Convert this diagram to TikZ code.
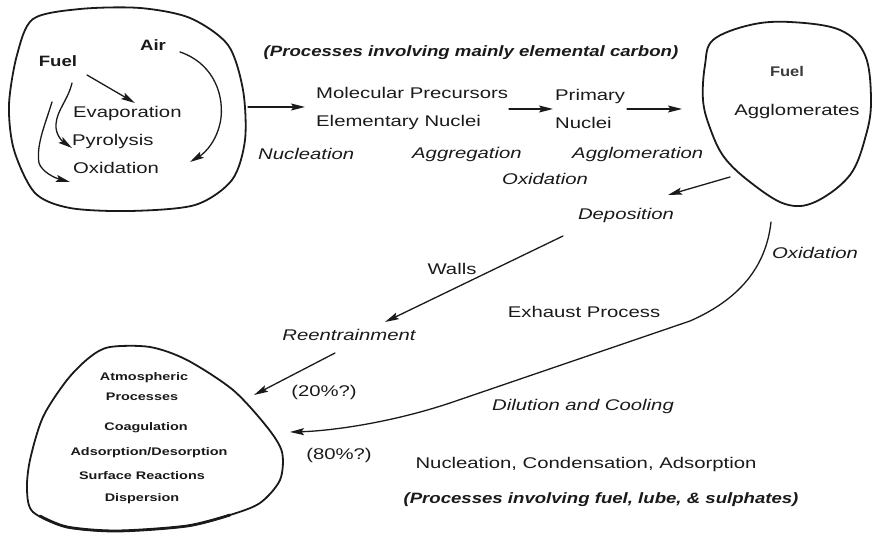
\documentclass[tikz,border=0pt]{standalone}
\usepackage{fontspec}
\usepackage{graphicx}
\setmainfont{Liberation Sans}
\usetikzlibrary{arrows.meta}
\definecolor{ink}{HTML}{1A1A1A}
\definecolor{greyink}{HTML}{3A3A3A}
\newcommand\sx[1]{\scalebox{1.31}[1]{#1}}
\newcommand\sxb[1]{\scalebox{1.24}[1]{#1}}
\tikzset{
  txt/.style={inner sep=0pt, text=ink, font=\fontsize{15.5}{18}\selectfont},
  itx/.style={inner sep=0pt, text=ink, font=\fontsize{15.5}{18}\selectfont\itshape},
  bix/.style={inner sep=0pt, text=ink, font=\fontsize{15}{18}\selectfont\bfseries\itshape},
  btx/.style={inner sep=0pt, text=ink, font=\fontsize{15}{18}\selectfont\bfseries},
  sml/.style={inner sep=0pt, text=ink, font=\fontsize{11}{13}\selectfont\bfseries, anchor=base},
  blob/.style={line width=1.8pt, draw=ink, line join=round},
  arr/.style={line width=1.3pt, draw=ink, line cap=round,
    -{Stealth[length=14pt,width=7pt,inset=2.5pt]}},
}
\begin{document}
\begin{tikzpicture}[x=1pt,y=-1pt]
\useasboundingbox (0,0) rectangle (873,534);
% ---------- blobs ----------
\draw[blob] plot[smooth cycle, tension=0.5] coordinates {
 (33,19) (80,9) (140,8) (190,18) (228,45) (243,90) (245,140) (232,180)
 (195,205) (130,211) (70,208) (35,193) (14,150) (9,105) (17,55)};
\draw[blob] plot[smooth cycle, tension=0.6] coordinates {
 (713,40) (750,25) (790,22) (840,30) (865,55) (871,100) (866,135) (850,175)
 (815,202) (785,204) (750,182) (724,157) (710,128) (703,100) (705,65)};
\draw[blob] plot[smooth cycle, tension=0.5] coordinates {
 (110,347) (150,347) (187,360) (233,390) (267,427) (282,452) (280,480)
 (260,503) (230,515) (187,526) (117,531) (67,527) (33,512) (27,490)
 (30,460) (43,417) (67,380) (90,357)};
\draw[line width=2.8pt, draw=ink, line cap=round] plot[smooth, tension=0.5] coordinates {
 (40,516) (67,527) (117,531) (187,526) (230,515)};
% ---------- texts: top-left blob ----------
\node[btx, anchor=base] (fuel1) at (58,67) {\sxb{Fuel}};
\node[btx, anchor=base] (air) at (153,51) {\sxb{Air}};
\node[txt, anchor=base west] (evap) at (73,118) {\sx{Evaporation}};
\node[txt, anchor=base west] (pyro) at (72,146) {\sx{Pyrolysis}};
\node[txt, anchor=base west] (oxi1) at (73,174) {\sx{Oxidation}};
% ---------- top row ----------
\node[bix, anchor=base] (head1) at (471,57) {\sxb{(Processes involving mainly elemental carbon)}};
\node[txt, anchor=base west] (molp) at (316,99) {\sx{Molecular Precursors}};
\node[txt, anchor=base west] (elem) at (316,127) {\sx{Elementary Nuclei}};
\node[txt, anchor=base west] (prim) at (555,101) {\sx{Primary}};
\node[txt, anchor=base west] (nucl) at (555,129) {\sx{Nuclei}};
\node[itx, anchor=base west] (nucn) at (258,160) {\sx{Nucleation}};
\node[itx, anchor=base west] (aggr) at (412,159) {\sx{Aggregation}};
\node[itx, anchor=base west] (aggl) at (572,159) {\sx{Agglomeration}};
\node[itx, anchor=base west] (oxi2) at (502,185) {\sx{Oxidation}};
% ---------- right blob ----------
\node[inner sep=0pt, text=greyink, font=\fontsize{14}{16}\selectfont\bfseries, anchor=base] (fuel2) at (787,77) {\scalebox{1.18}[1]{Fuel}};
\node[txt, anchor=base] (aggm) at (797,116) {\sx{Agglomerates}};
% ---------- middle ----------
\node[itx, anchor=base] (depo) at (626,220) {\sx{Deposition}};
\node[txt, anchor=base] (wall) at (452,275) {\sx{Walls}};
\node[itx, anchor=base] (oxi3) at (815,259) {\sx{Oxidation}};
\node[txt, anchor=base] (exha) at (584,318) {\sx{Exhaust Process}};
\node[itx, anchor=base] (reen) at (349,341) {\sx{Reentrainment}};
\node[txt, anchor=base] (p20) at (324,397) {\sx{(20\%?)}};
\node[itx, anchor=base] (dilu) at (583,411) {\sx{Dilution and Cooling}};
\node[txt, anchor=base] (p80) at (339,459) {\sx{(80\%?)}};
\node[txt, anchor=base] (ncad) at (586,468) {\sx{Nucleation, Condensation, Adsorption}};
\node[bix, anchor=base] (head2) at (601,503) {\sxb{(Processes involving fuel, lube, \& sulphates)}};
% ---------- bottom-left blob ----------
\node[sml] (atm) at (144,381) {\sx{Atmospheric}};
\node[sml] (proc) at (142,401) {\sx{Processes}};
\node[sml] (coag) at (146,431) {\sx{Coagulation}};
\node[sml] (adso) at (149,455) {\sx{Adsorption/Desorption}};
\node[sml] (surf) at (142,479) {\sx{Surface Reactions}};
\node[sml] (disp) at (142,501) {\sx{Dispersion}};
% ---------- connector end points ----------
\coordinate (c1s) at (248,107); \coordinate (c1e) at (305,107);
\coordinate (c2s) at (509,109); \coordinate (c2e) at (553,109);
\coordinate (c3s) at (627,109); \coordinate (c3e) at (682,109);
\coordinate (c4s) at (730,177); \coordinate (c4e) at (668,195);
\coordinate (c5s) at (563,236); \coordinate (c5e) at (385,322);
\coordinate (c6s) at (335,353); \coordinate (c6e) at (254,395);
\coordinate (c7s) at (771,222); \coordinate (c7e) at (290,432);
\coordinate (f1s) at (87,75);  \coordinate (f1e) at (135,103);
\coordinate (f2s) at (72,83);  \coordinate (f2e) at (72,148);
\coordinate (f3s) at (52,102); \coordinate (f3e) at (70,182);
\coordinate (a1s) at (180,52); \coordinate (a1e) at (190,162);
% ---------- connectors ----------
\draw[arr] (c1s) -- (c1e);
\draw[arr] (c2s) -- (c2e);
\draw[arr] (c3s) -- (c3e);
\draw[arr] (c4s) -- (c4e);
\draw[arr] (c5s) -- (c5e);
\draw[arr] (c6s) -- (c6e);
\draw[arr] (c7s) .. controls (766,268) and (738,300) .. (690,321)
  -- (450,403) .. controls (390,423) and (330,431) .. (c7e);
\draw[arr] (f1s) -- (f1e);
\draw[arr] (f2s) .. controls (68,100) and (57,110) .. (56,124)
  .. controls (55,134) and (62,141) .. (f2e);
\draw[arr] (f3s) .. controls (45,125) and (36,145) .. (39,163)
  .. controls (42,172) and (55,178) .. (f3e);
\draw[arr] (a1s) .. controls (210,62) and (224,90) .. (221,118)
  .. controls (218,140) and (205,153) .. (a1e);
\end{tikzpicture}
\end{document}
